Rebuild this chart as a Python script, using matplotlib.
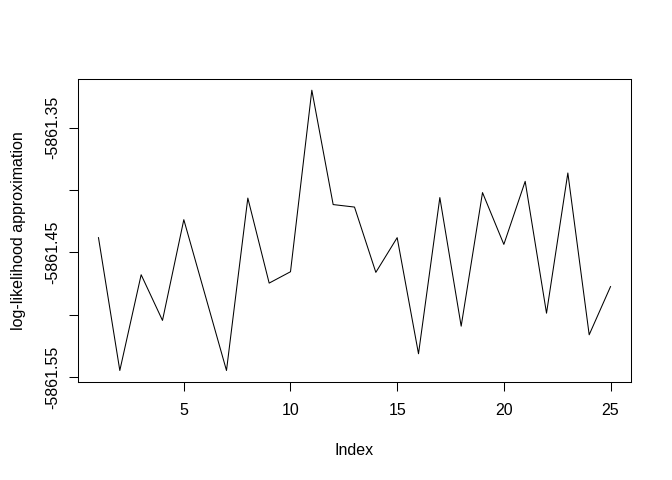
import matplotlib
matplotlib.use("Agg")
import matplotlib.pyplot as plt

plt.rcParams['font.family'] = ['Liberation Sans', 'DejaVu Sans']

index = list(range(1, 26))
loglik = [-5861.4382, -5861.5446, -5861.4679, -5861.5045, -5861.4238,
          -5861.4842, -5861.5446, -5861.4065, -5861.4746, -5861.4655,
          -5861.3201, -5861.4117, -5861.4137, -5861.4660, -5861.4382,
          -5861.5312, -5861.4061, -5861.5091, -5861.4021, -5861.4436,
          -5861.3931, -5861.4987, -5861.3864, -5861.5160, -5861.4774]
x_ticks = [5, 10, 15, 20, 25]
y_ticks = [-5861.55, -5861.50, -5861.45, -5861.40, -5861.35]
y_tick_labels = ["-5861.55", "", "-5861.45", "", "-5861.35"]

fig = plt.figure(figsize=(6.72, 4.8), dpi=100)
ax = fig.add_axes([78/672, 1 - 381.7/480, (631-78)/672, (381.7-79)/480])

ax.plot(index, loglik, color='black', linewidth=0.75)

xmin, xmax = min(index), max(index)
dx = (xmax - xmin) * 0.04
ax.set_xlim(xmin - dx, xmax + dx)
ymin, ymax = min(loglik), max(loglik)
dy = (ymax - ymin) * 0.04
ax.set_ylim(ymin - dy, ymax + dy)

ax.set_xticks(x_ticks)
ax.set_xticklabels([str(t) for t in x_ticks])
ax.set_yticks(y_ticks)
ax.set_yticklabels(y_tick_labels, rotation=90, va='center')

for s in ax.spines.values():
    s.set_linewidth(0.75)
    s.set_color('black')

ax.tick_params(axis='both', direction='out', length=6.7, width=0.75,
               labelsize=11.5, colors='black')
ax.tick_params(axis='x', pad=8.5)
ax.tick_params(axis='y', pad=6)

ax.set_xlabel("Index", fontsize=11.5, labelpad=18)
ax.set_ylabel("log-likelihood approximation", fontsize=11.5, labelpad=14)

fig.savefig("out.png", dpi=100)
